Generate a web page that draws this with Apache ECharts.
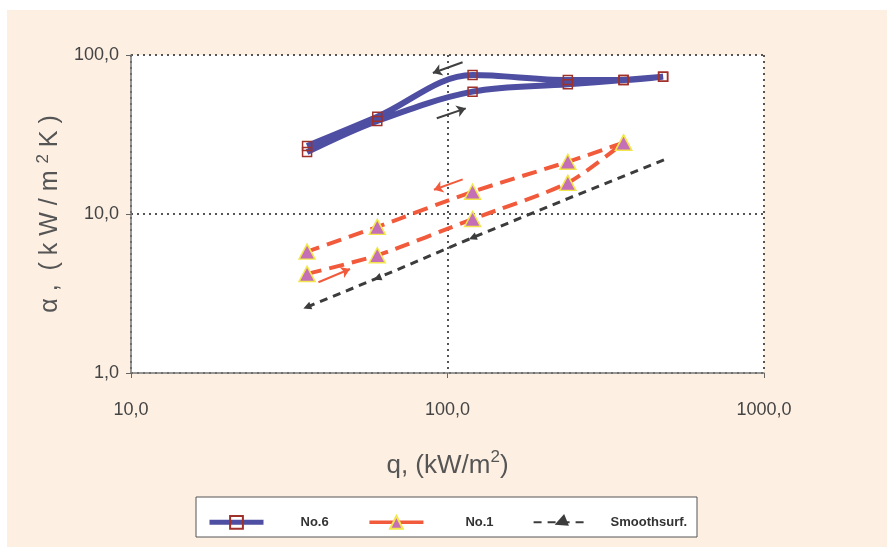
<!DOCTYPE html>
<html><head><meta charset="utf-8">
<script src="https://cdn.jsdelivr.net/npm/echarts@6/dist/echarts.min.js"></script>
<style>
html,body{margin:0;padding:0;background:#fff;}
#bg{position:absolute;left:7px;top:10px;width:880px;height:537px;background:#fdf0e3;}
#chart{position:absolute;left:0;top:0;width:887px;height:547px;}
</style></head>
<body><div id="bg"></div><div id="chart"></div>
<script>
// q values (kW/m2)
const qUp = [36, 60, 120, 240, 360, 480];
const qDown = [480, 360, 240, 120, 60, 36];
// No.6 heat transfer coefficient (kW/m2K)
const no6Up = [24.5, 38.5, 58.8, 65.5, 69.6, 73.1];
const no6Down = [73.1, 69.6, 69.6, 74.8, 40.9, 26.8];
// No.1
const qUp1 = [36, 60, 120, 240, 360];
const qDown1 = [360, 240, 120, 60, 36];
const no1Up = [4.2, 5.5, 9.3, 15.7, 28.1];
const no1Down = [28.1, 21.3, 13.8, 8.3, 5.8];
// Smooth surface
const qSmooth = [36, 60, 120, 240, 500];
const smoothVals = [2.6, 3.95, 7.1, 12.5, 22.5];
const smoothMarked = [true, true, true, false, false];
// axis ticks
const xTicks = [10, 100, 1000];
const yTicks = [1, 10, 100];
const seriesNames = ['No.6', 'No.1', 'Smoothsurf.'];
// direction arrows [start, end] in data coords
const arrowsNo6 = [[[111.6, 90], [89.9, 77.1]], [[92.5, 40.0], [114.2, 46.2]]];
const arrowsNo1 = [[[111.7, 16.5], [90.6, 14.2]], [[39.1, 3.72], [49.2, 4.51]]];

const fmt = v => v.toFixed(1).replace('.', ',');
const pairs = (xs, ys) => xs.map((x, i) => [x, ys[i]]);
const arrowLines = arr => arr.map(a => [{coord: a[0]}, {coord: a[1]}]);

const chart = echarts.init(document.getElementById('chart'));
const FONT = 'Liberation Sans, Arial, sans-serif';
chart.setOption({
  animation: false,
  graphic: [{type: 'rect', z: 0, shape: {x: 196, y: 497, width: 501, height: 40},
    style: {fill: '#fff', stroke: '#555', lineWidth: 1}}],
  grid: {left: 131, right: 123, top: 55, bottom: 174, show: true, backgroundColor: '#fff', borderWidth: 0},
  legend: {
    left: 202, top: 509, itemWidth: 54, itemHeight: 16, itemGap: 39,
    data: [
      {name: 'No.6', lineStyle: {width: 5}},
      {name: 'No.1', lineStyle: {width: 3.5, type: 'solid'}},
      {name: 'Smoothsurf.'}
    ],
    formatter: name => '{p' + seriesNames.indexOf(name) + '|}' + name,
    textStyle: {fontFamily: FONT, fontSize: 13, fontWeight: 'bold', color: '#333',
      rich: {p0: {width: 32}, p1: {width: 37}, p2: {width: 18}}}
  },
  xAxis: {
    type: 'log', logBase: 10, min: 10, max: 1000,
    name: 'q, (kW/m{s|2})', nameLocation: 'middle', nameGap: 76,
    nameTextStyle: {fontFamily: FONT, fontSize: 26, color: '#555',
      rich: {s: {fontFamily: FONT, fontSize: 17, color: '#555', verticalAlign: 'bottom', padding: [0, 0, 16, 0]}}},
    axisLine: {show: true, lineStyle: {color: '#777', width: 1.5}},
    axisTick: {show: true, length: 5, lineStyle: {color: '#666'}},
    axisLabel: {formatter: fmt, margin: 28, fontFamily: FONT, fontSize: 18, color: '#444'},
    splitLine: {show: true, lineStyle: {color: '#555', type: [2, 4], width: 2}},
    minorTick: {show: false}
  },
  yAxis: {
    type: 'log', logBase: 10, min: 1, max: 100,
    name: 'α ,  ( k W / m {s|2} K )', nameLocation: 'middle', nameGap: 64,
    nameTextStyle: {fontFamily: FONT, fontSize: 25, color: '#555',
      rich: {s: {fontFamily: FONT, fontSize: 17, color: '#555', verticalAlign: 'bottom', padding: [0, 0, 14, 0]}}},
    axisLine: {show: true, lineStyle: {color: '#777', width: 1.5}},
    axisTick: {show: true, length: 5, lineStyle: {color: '#666'}},
    axisLabel: {formatter: fmt, margin: 12, fontFamily: FONT, fontSize: 18, color: '#444'},
    splitLine: {show: true, lineStyle: {color: '#555', type: [2, 4], width: 2}}
  },
  series: [
    {
      name: 'No.6', type: 'line', smooth: 0.35, z: 3,
      data: pairs(qUp, no6Up).concat(pairs(qDown, no6Down)),
      symbol: 'rect', symbolSize: 9,
      lineStyle: {color: '#4e4ea2', width: 6},
      itemStyle: {color: 'rgba(255,255,255,0)', borderColor: '#a0302a', borderWidth: 1.5},
      markLine: {silent: true, symbol: ['none', 'arrow'], symbolSize: 9, label: {show: false},
        lineStyle: {color: '#404040', width: 2, type: 'solid'}, data: arrowLines(arrowsNo6)}
    },
    {
      name: 'No.1', type: 'line', smooth: 0.25, z: 4,
      data: pairs(qUp1, no1Up).concat(pairs(qDown1, no1Down)),
      symbol: 'triangle', symbolSize: [16, 15],
      lineStyle: {color: '#f25a3c', width: 4, type: [15, 8]},
      itemStyle: {color: '#c46fb6', borderColor: '#f3e64c', borderWidth: 1.5},
      markLine: {silent: true, symbol: ['none', 'arrow'], symbolSize: 9, label: {show: false},
        lineStyle: {color: '#f25a3c', width: 2, type: 'solid'}, data: arrowLines(arrowsNo1)}
    },
    {
      name: 'Smoothsurf.', type: 'line', z: 2,
      data: qSmooth.map((q, i) => ({value: [q, smoothVals[i]], symbol: smoothMarked[i] ? 'triangle' : 'none'})),
      symbol: 'triangle', symbolSize: 8, symbolRotate: 112,
      lineStyle: {color: '#3c3c3c', width: 3, type: [8, 6]},
      itemStyle: {color: '#3c3c3c'}
    }
  ]
});
</script></body></html>
